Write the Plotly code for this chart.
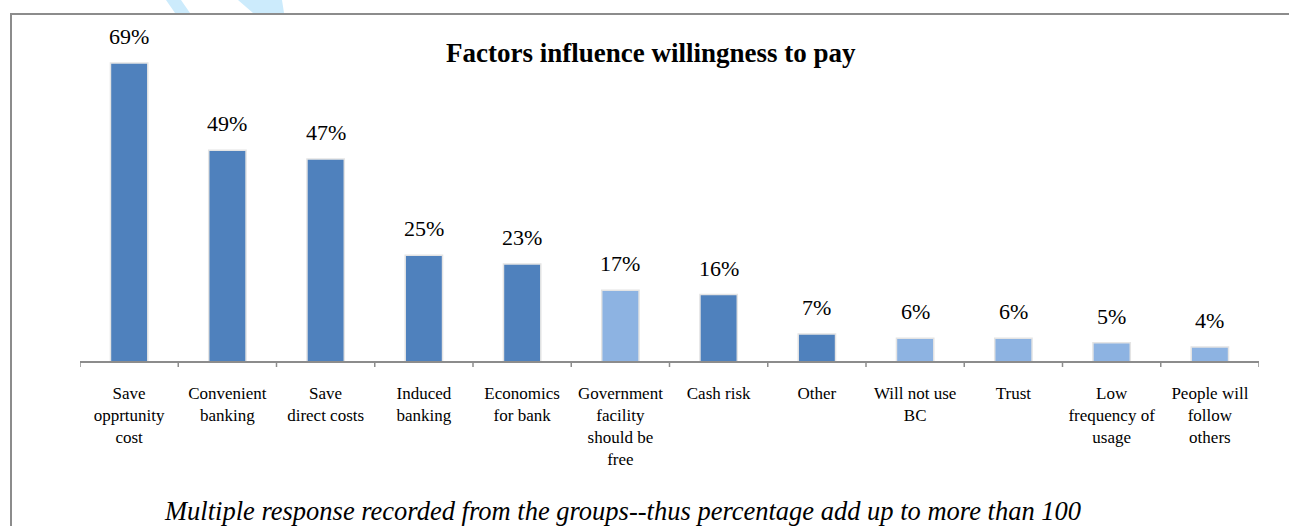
import plotly.graph_objects as go

categories = ["Save<br>opprtunity<br>cost", "Convenient<br>banking", "Save<br>direct costs",
              "Induced<br>banking", "Economics<br>for bank", "Government<br>facility<br>should be<br>free",
              "Cash risk", "Other", "Will not use<br>BC", "Trust", "Low<br>frequency of<br>usage",
              "People will<br>follow<br>others"]
values = [69, 49, 47, 25, 23, 17, 16, 7, 6, 6, 5, 4]
labels = ["69%", "49%", "47%", "25%", "23%", "17%", "16%", "7%", "6%", "6%", "5%", "4%"]
shade = ["dark", "dark", "dark", "dark", "dark", "light", "dark", "dark", "light", "light", "light", "light"]

DARK = "#4F81BD"
LIGHT = "#8DB3E2"
colors = [DARK if s == "dark" else LIGHT for s in shade]
SERIF = "Liberation Serif, 'Times New Roman', 'DejaVu Serif', serif"

W, H = 1289, 526
L, R, T, B = 80, 30, 35, 165
PW, PH = W - L - R, H - T - B

def px(x):
    return (x - L) / PW

def py(y):
    return 1 - (y - T) / PH

fig = go.Figure()
fig.add_trace(go.Bar(
    x=list(range(len(categories))), y=values,
    marker=dict(color=colors, line=dict(color="#E4E4E4", width=1.5)),
    width=0.38, hoverinfo="skip",
))

for i, (v, t) in enumerate(zip(values, labels)):
    fig.add_annotation(x=i, y=v, text=t, showarrow=False, yanchor="bottom", yshift=12,
                       font=dict(family=SERIF, size=22, color="#000"))

fig.add_annotation(xref="paper", yref="paper", x=px(651), y=py(53), yanchor="middle", xanchor="center",
                   text="<b>Factors influence willingness to pay</b>",
                   showarrow=False, font=dict(family=SERIF, size=27, color="#000"))
fig.add_annotation(xref="paper", yref="paper", x=px(622), y=py(511), yanchor="middle", xanchor="center",
                   text="<i>Multiple response recorded from the groups--thus percentage add up to more than 100</i>",
                   showarrow=False, font=dict(family=SERIF, size=26.5, color="#000"))

# outer border
fig.add_shape(type="rect", xref="paper", yref="paper", x0=px(11), y0=py(560), x1=px(1320), y1=py(14),
              line=dict(color="#8C8C8C", width=2), layer="below")
# watermark strokes
fig.add_shape(type="path", xref="paper", yref="paper",
              path=f"M {px(166)} {py(0)} L {px(181)} {py(0)} L {px(190)} {py(13)} L {px(175)} {py(13)} Z",
              fillcolor="#CCEBFC", line=dict(width=0), layer="below")
fig.add_shape(type="path", xref="paper", yref="paper",
              path=f"M {px(238)} {py(0)} L {px(282)} {py(0)} L {px(284)} {py(13)} L {px(253)} {py(13)} Z",
              fillcolor="#CCEBFC", line=dict(width=0), layer="below")

fig.update_layout(
    width=W, height=H, margin=dict(l=L, r=R, t=T, b=B),
    paper_bgcolor="white", plot_bgcolor="white", showlegend=False,
    font=dict(family=SERIF),
    bargap=0.62,
    xaxis=dict(tickmode="array", tickvals=list(range(len(categories))), ticktext=categories,
               range=[-0.5, len(categories) - 0.5], showline=True, linecolor="#8C8C8C", linewidth=1.5,
               ticks="", showgrid=False, zeroline=False, ticklabelstandoff=16,
               tickfont=dict(family=SERIF, size=17, color="#000"), fixedrange=True),
    yaxis=dict(range=[0.8, 75.4], visible=False, showgrid=False, zeroline=False, fixedrange=True),
)
# category boundary ticks
for k in range(len(categories) + 1):
    fig.add_shape(type="line", xref="x", yref="paper", x0=k - 0.5, x1=k - 0.5, y0=0, y1=py(367),
                  line=dict(color="#8C8C8C", width=1.5))

fig.write_html("out.html")
